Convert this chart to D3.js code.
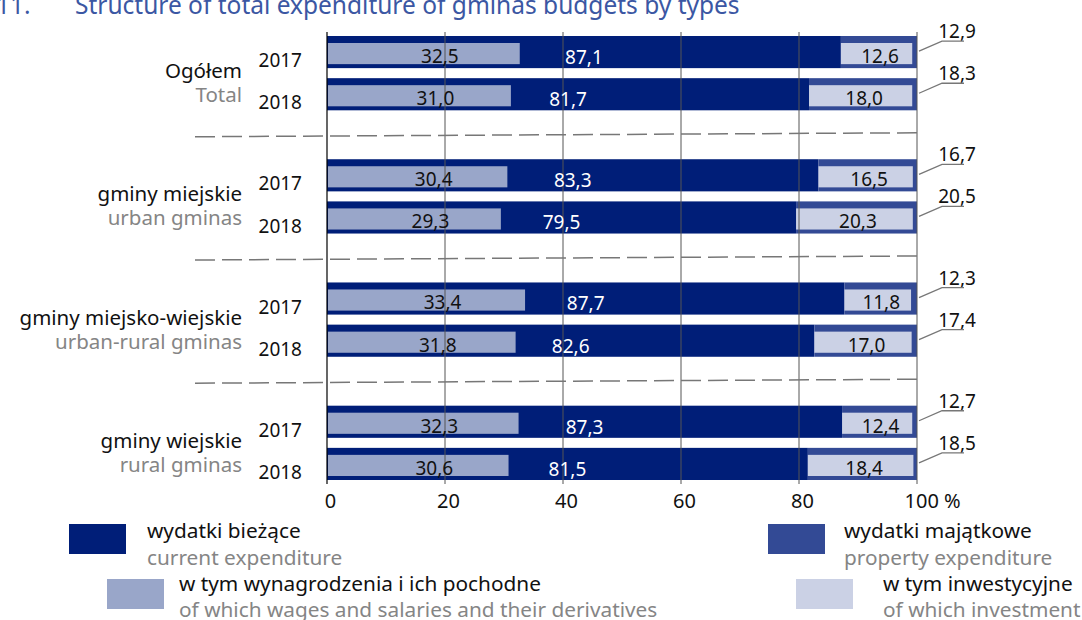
<!DOCTYPE html>
<html><head><meta charset="utf-8">
<script src="https://cdn.jsdelivr.net/npm/d3@7"></script>
<style>body{margin:0;background:#fff} svg{display:block} text{font-family:"Noto Sans",sans-serif}</style>
</head><body><svg id="c" width="1082" height="620"></svg>
<script>
const titleNum = "11.";
const titleText = "Structure of total expenditure of gminas budgets by types";
const groupsPL = ["Ogółem","gminy miejskie","gminy miejsko-wiejskie","gminy wiejskie"];
const groupsEN = ["Total","urban gminas","urban-rural gminas","rural gminas"];
const years = ["2017","2018"];
// order: group0-2017, group0-2018, group1-2017, ...
const current    = [87.1,81.7,83.3,79.5,87.7,82.6,87.3,81.5];
const wages      = [32.5,31.0,30.4,29.3,33.4,31.8,32.3,30.6];
const property   = [12.9,18.3,16.7,20.5,12.3,17.4,12.7,18.5];
const investment = [12.6,18.0,16.5,20.3,11.8,17.0,12.4,18.4];
const xTicks = [0,20,40,60,80,100];
const legendPL = ["wydatki bieżące","w tym wynagrodzenia i ich pochodne","wydatki majątkowe","w tym inwestycyjne"];
const legendEN = ["current expenditure","of which wages and salaries and their derivatives","property expenditure","of which investment"];

const C = {cur:"#001e78", prop:"#334a95", wag:"#99a6c9", inv:"#cbd1e5", grid:"#555", dash:"#777", gray:"#858585", txt:"#111", title:"#3b57a3"};
const fmt = v => d3.format(".1f")(v).replace(".", ",");

const svg = d3.select("#c");
const x = d3.scaleLinear().domain([0,100]).range([327,917]);
const yG = d3.scaleBand().domain(groupsPL).range([36,480]).paddingInner(0.397).paddingOuter(0);
const yY = d3.scaleBand().domain(years).range([0,yG.bandwidth()]).paddingInner(0.238);
const bh = yY.bandwidth();
const rows = [];
groupsPL.forEach((g,gi)=>years.forEach((yr,yi)=>{
  const i = gi*2+yi;
  rows.push({g, yr, cur:current[i], wag:wages[i], prop:property[i], inv:investment[i], y:yG(g)+yY(yr)});
}));

// title
svg.append("text").attr("x",-4).attr("y",14).attr("font-size",24.5).attr("fill",C.title).text(titleNum);
svg.append("text").attr("x",75).attr("y",14).attr("font-size",24.5).attr("fill",C.title).text(titleText);

// bars
const bars = svg.append("g");
bars.selectAll(".cur").data(rows).join("rect")
  .attr("x",x(0)).attr("y",d=>d.y).attr("width",d=>x(d.cur)-x(0)).attr("height",bh).attr("fill",C.cur);
bars.selectAll(".prop").data(rows).join("rect")
  .attr("x",d=>x(d.cur)).attr("y",d=>d.y).attr("width",d=>x(d.cur+d.prop)-x(d.cur)).attr("height",bh).attr("fill",C.prop);
bars.selectAll(".wag").data(rows).join("rect")
  .attr("x",x(0)+1).attr("y",d=>d.y+7).attr("width",d=>x(d.wag)-x(0)).attr("height",bh-11).attr("fill",C.wag);
bars.selectAll(".inv").data(rows).join("rect")
  .attr("x",d=>x(d.cur)).attr("y",d=>d.y+7).attr("width",d=>x(d.cur+d.inv)-x(d.cur)-3).attr("height",bh-11).attr("fill",C.inv);

// grid lines (on top of bars)
const gy0 = 32, gy1 = 484;
svg.append("g").selectAll("line").data(xTicks.slice(1)).join("line")
  .attr("x1",d=>x(d)).attr("x2",d=>x(d)).attr("y1",gy0).attr("y2",gy1)
  .attr("stroke",C.grid).attr("stroke-width",1);
svg.append("line").attr("x1",x(0)).attr("x2",x(0)).attr("y1",gy0).attr("y2",gy1).attr("stroke","#000").attr("stroke-width",1.2);

// dashed separators between groups
const seps = groupsPL.slice(1).map((g,i)=> (yG(groupsPL[i])+yG.bandwidth()+yG(g))/2 );
svg.append("g").selectAll("line").data(seps).join("line")
  .attr("x1",195).attr("x2",x(100)).attr("y1",d=>d+2).attr("y2",d=>d-2)
  .attr("stroke",C.dash).attr("stroke-width",1.5).attr("stroke-dasharray","20,7");

// value labels
const lab = svg.append("g").attr("font-size",19);
lab.selectAll(".lw").data(rows).join("text")
  .attr("x",d=>x(d.wag/2)+17).attr("y",d=>d.y+27).attr("text-anchor","middle").attr("fill",C.txt).text(d=>fmt(d.wag));
lab.selectAll(".lc").data(rows).join("text")
  .attr("x",d=>x(d.cur/2)).attr("y",d=>d.y+28).attr("text-anchor","middle").attr("fill","#fff").text(d=>fmt(d.cur));
lab.selectAll(".li").data(rows).join("text")
  .attr("x",d=>(x(d.cur)+x(d.cur+d.inv))/2+2).attr("y",d=>d.y+27).attr("text-anchor","middle").attr("fill",C.txt).text(d=>fmt(d.inv));

// property labels with leaders
const x100 = x(100);
svg.append("g").selectAll("path").data(rows).join("path")
  .attr("d",d=>{const cy=d.y+bh/2; return `M${x100+2},${cy-1} L${x100+25},${cy-11} L${x100+47},${cy-11}`;})
  .attr("fill","none").attr("stroke","#777").attr("stroke-width",1.3);
lab.selectAll(".lp").data(rows).join("text")
  .attr("x",x100+40).attr("y",d=>d.y+bh/2-14).attr("text-anchor","middle").attr("fill",C.txt).text(d=>fmt(d.prop));

// year labels
lab.selectAll(".ly").data(rows).join("text")
  .attr("x",302).attr("y",d=>d.y+bh-1).attr("text-anchor","end").attr("fill",C.txt).text(d=>d.yr);

// group labels
const gl = svg.append("g").attr("font-size",20.5).attr("text-anchor","end");
gl.selectAll(".gp").data(groupsPL).join("text")
  .attr("x",242).attr("y",d=>yG(d)+yG.bandwidth()/2+5).attr("fill",C.txt).text(d=>d);
gl.selectAll(".ge").data(groupsEN).join("text")
  .attr("x",242).attr("y",(d,i)=>yG(groupsPL[i])+yG.bandwidth()/2+29).attr("fill",C.gray).text(d=>d);

// x axis
const ax = svg.append("g").attr("transform",`translate(0,${gy1})`)
  .call(d3.axisBottom(x).tickValues(xTicks).tickSize(0).tickPadding(10).tickFormat(d=> d===100 ? "100 %" : d));
ax.select(".domain").remove();
ax.selectAll("text").attr("font-size",20).attr("font-family","Noto Sans").attr("fill",C.txt).attr("dx",3);
ax.selectAll(".tick").filter(d=>d===100).select("text").attr("text-anchor","start").attr("dx",-13);

// legend
const legColors = [C.cur, C.wag, C.prop, C.inv];
const legPos = [[69,524],[107,579],[768,524],[796,579]];
const legTextOff = [78,72,76,87];
const lg = svg.append("g").attr("font-size",20.8);
legendPL.forEach((t,i)=>{
  const [lx,ly] = legPos[i];
  const tx = lx+legTextOff[i];
  const dyp = i%2 ? 12 : 14, dye = i%2 ? 38 : 41;
  lg.append("rect").attr("x",lx).attr("y",ly).attr("width",57).attr("height",30).attr("fill",legColors[i]);
  lg.append("text").attr("x",tx).attr("y",ly+dyp).attr("fill",C.txt).text(t);
  lg.append("text").attr("x",tx).attr("y",ly+dye).attr("fill",C.gray).text(legendEN[i]);
});
</script></body></html>
